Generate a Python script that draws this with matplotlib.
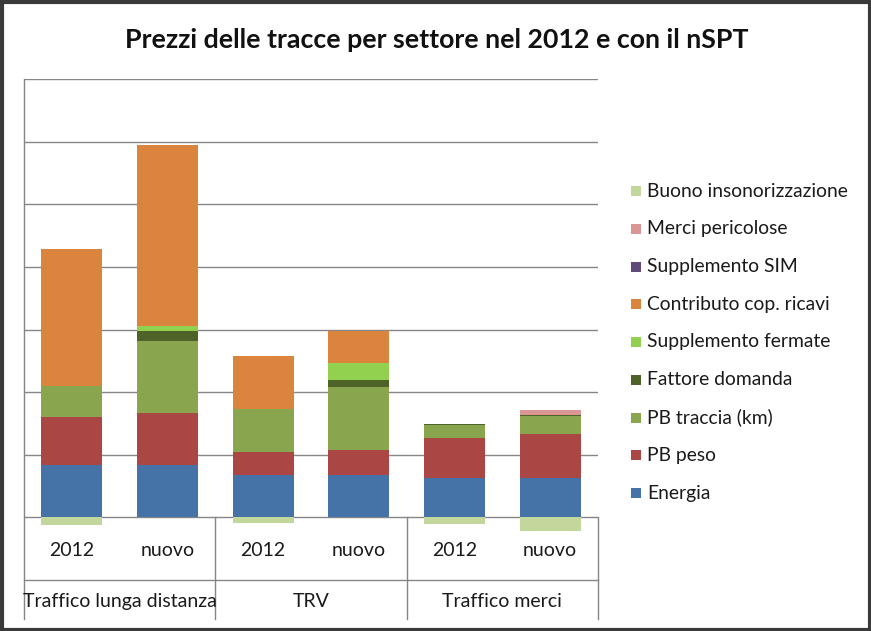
import matplotlib
matplotlib.use('Agg')
import matplotlib.pyplot as plt
from matplotlib.patches import Rectangle
import numpy as np

plt.rcParams['font.family'] = ['Lato', 'DejaVu Sans']

groups = ['Traffico lunga distanza', 'TRV', 'Traffico merci']
bar_labels = ['2012', 'nuovo', '2012', 'nuovo', '2012', 'nuovo']

energia = [0.83, 0.83, 0.68, 0.68, 0.63, 0.63]
pb_peso = [0.77, 0.84, 0.36, 0.39, 0.64, 0.70]
pb_traccia = [0.49, 1.14, 0.69, 1.01, 0.20, 0.29]
fattore_domanda = [0.0, 0.17, 0.0, 0.12, 0.015, 0.015]
suppl_fermate = [0.0, 0.07, 0.0, 0.26, 0.0, 0.0]
contributo = [2.19, 2.89, 0.85, 0.51, 0.0, 0.0]
suppl_sim = [0.0, 0.0, 0.0, 0.0, 0.0, 0.0]
merci_pericolose = [0.0, 0.0, 0.0, 0.0, 0.0, 0.075]
buono = [-0.12, 0.0, -0.09, 0.0, -0.11, -0.21]

series = [
    ('Energia', energia, '#4572A7'),
    ('PB peso', pb_peso, '#AA4643'),
    ('PB traccia (km)', pb_traccia, '#89A54E'),
    ('Fattore domanda', fattore_domanda, '#4F6228'),
    ('Supplemento fermate', suppl_fermate, '#92D050'),
    ('Contributo cop. ricavi', contributo, '#DB843D'),
    ('Supplemento SIM', suppl_sim, '#604A7B'),
    ('Merci pericolose', merci_pericolose, '#D99694'),
]
buono_name, buono_color = 'Buono insonorizzazione', '#C3D69B'

W, H = 871, 631
fig = plt.figure(figsize=(W / 100, H / 100), dpi=100)
fig.patch.set_facecolor('white')

ax = fig.add_axes([24 / W, 1 - 580 / H, 574 / W, 501 / H])
ax.set_xlim(-0.5, 5.5)
ax.set_ylim(-1, 7)

x = np.arange(len(bar_labels))
bw = 0.64
bottom = np.zeros(len(x))
for name, vals, col in series:
    v = np.array(vals)
    ax.bar(x, v, bw, bottom=bottom, color=col, linewidth=0, zorder=3)
    bottom += v
ax.bar(x, buono, bw, bottom=0, color=buono_color, linewidth=0, zorder=3)

grid_c = '#868686'
for yv in range(0, 8):
    ax.axhline(yv, color=grid_c, lw=1.0, zorder=1)
for s in ax.spines.values():
    s.set_visible(False)
ax.set_xticks([])
ax.set_yticks([])

# category table lines
ax.plot([-0.5, 5.5], [-1, -1], color=grid_c, lw=1.0, clip_on=False, zorder=2)
ax.plot([-0.5, -0.5], [7, -1.63], color=grid_c, lw=1.0, clip_on=False, zorder=2)
for xv in [1.5, 3.5, 5.5]:
    ax.plot([xv, xv], [0, -1.63], color=grid_c, lw=1.0, clip_on=False, zorder=2)

for xi, lab in zip(x, bar_labels):
    ax.text(xi, -0.53, lab, ha='center', va='center', fontsize=14, color='#1a1a1a')
for gi, g in enumerate(groups):
    ax.text(gi * 2 + 0.5, -1.35, g, ha='center', va='center', fontsize=14, color='#1a1a1a')

fig.text(437 / W, 1 - 40 / H, 'Prezzi delle tracce per settore nel 2012 e con il nSPT',
         ha='center', va='center', fontsize=19.3, fontweight='bold', color='#111111')

# legend (top to bottom)
legend_items = [(buono_name, buono_color)] + [(n, c) for n, v, c in reversed(series)]
y0, dy = 191, 37.75
for i, (name, col) in enumerate(legend_items):
    yc = y0 + i * dy
    fig.patches.append(Rectangle((631 / W, 1 - (yc + 5) / H), 10 / W, 10 / H,
                                 transform=fig.transFigure, facecolor=col, edgecolor='none'))
    fig.text(647 / W, 1 - yc / H, name, ha='left', va='center', fontsize=13.9, color='#1a1a1a')

# outer border
fig.patches.append(Rectangle((1.5 / W, 1.5 / H), (W - 3) / W, (H - 3) / H,
                             transform=fig.transFigure, facecolor='none',
                             edgecolor='#3a3a3a', lw=3))

fig.savefig('out.png', dpi=100, facecolor='white')
